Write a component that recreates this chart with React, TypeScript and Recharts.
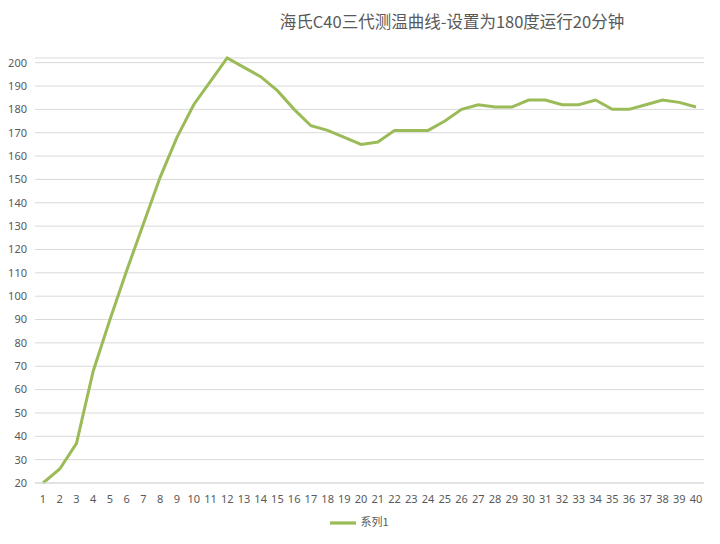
import React from 'react';
import { CartesianGrid, Legend, Line, LineChart, XAxis, YAxis } from 'recharts';

const minutes = Array.from({ length: 40 }, (_, i) => String(i + 1));
const temps = [
  20, 26, 37, 68, 90, 111, 131, 151, 168, 182,
  192, 202, 198, 194, 188, 180, 173, 171, 168, 165,
  166, 171, 171, 171, 175, 180, 182, 181, 181, 184,
  184, 182, 182, 184, 180, 180, 182, 184, 183, 181,
];
const yTicks = [20, 30, 40, 50, 60, 70, 80, 90, 100, 110, 120, 130, 140, 150, 160, 170, 180, 190, 200];

const data = minutes.map((m, i) => ({ name: m, 系列1: temps[i] }));

const font = '"Noto Sans", "Noto Sans CJK SC", sans-serif';

function App() {
  return (
    <div style={{ position: 'relative', width: 720, height: 544, margin: -8, background: '#fff', fontFamily: font }}>
      <div style={{ position: 'absolute', left: 3, top: 3, width: 713, height: 536, border: '1px solid #d9d9d9', boxSizing: 'border-box' }} />
      <div style={{ position: 'absolute', left: 190, width: 524, top: 9, textAlign: 'center', fontSize: 16.5, color: '#595959', fontFamily: '"Noto Sans CJK SC", sans-serif' }}>
        海氏C40三代测温曲线-设置为180度运行20分钟
      </div>
      <LineChart width={720} height={544} data={data} margin={{ top: 58, right: 16, left: 5, bottom: 5 }}>
        <CartesianGrid vertical={false} stroke="#d9d9d9" strokeWidth={1} />
        <XAxis
          dataKey="name"
          interval={0}
          padding={{ left: 8, right: 8 }}
          axisLine={{ stroke: '#d9d9d9' }}
          tickLine={false}
          tick={{ fill: '#595959', fontSize: 11, fontFamily: font }}
          tickMargin={6}
          height={30}
        />
        <YAxis
          domain={[20, 200]}
          ticks={yTicks}
          interval={0}
          axisLine={false}
          tickLine={false}
          width={30}
          tick={{ fill: '#595959', fontSize: 11, fontFamily: font }}
          tickMargin={2}
        />
        <Legend
          iconType="plainline"
          iconSize={26}
          verticalAlign="bottom"
          formatter={(v) => <span style={{ color: '#595959' }}>{v}</span>}
          wrapperStyle={{ fontSize: 11, paddingLeft: 10, bottom: 8, fontFamily: '"Noto Sans CJK SC", sans-serif' }}
        />
        <Line
          type="linear"
          dataKey="系列1"
          stroke="#9bbb59"
          strokeWidth={3}
          dot={false}
          isAnimationActive={false}
        />
      </LineChart>
    </div>
  );
}

export default App;
